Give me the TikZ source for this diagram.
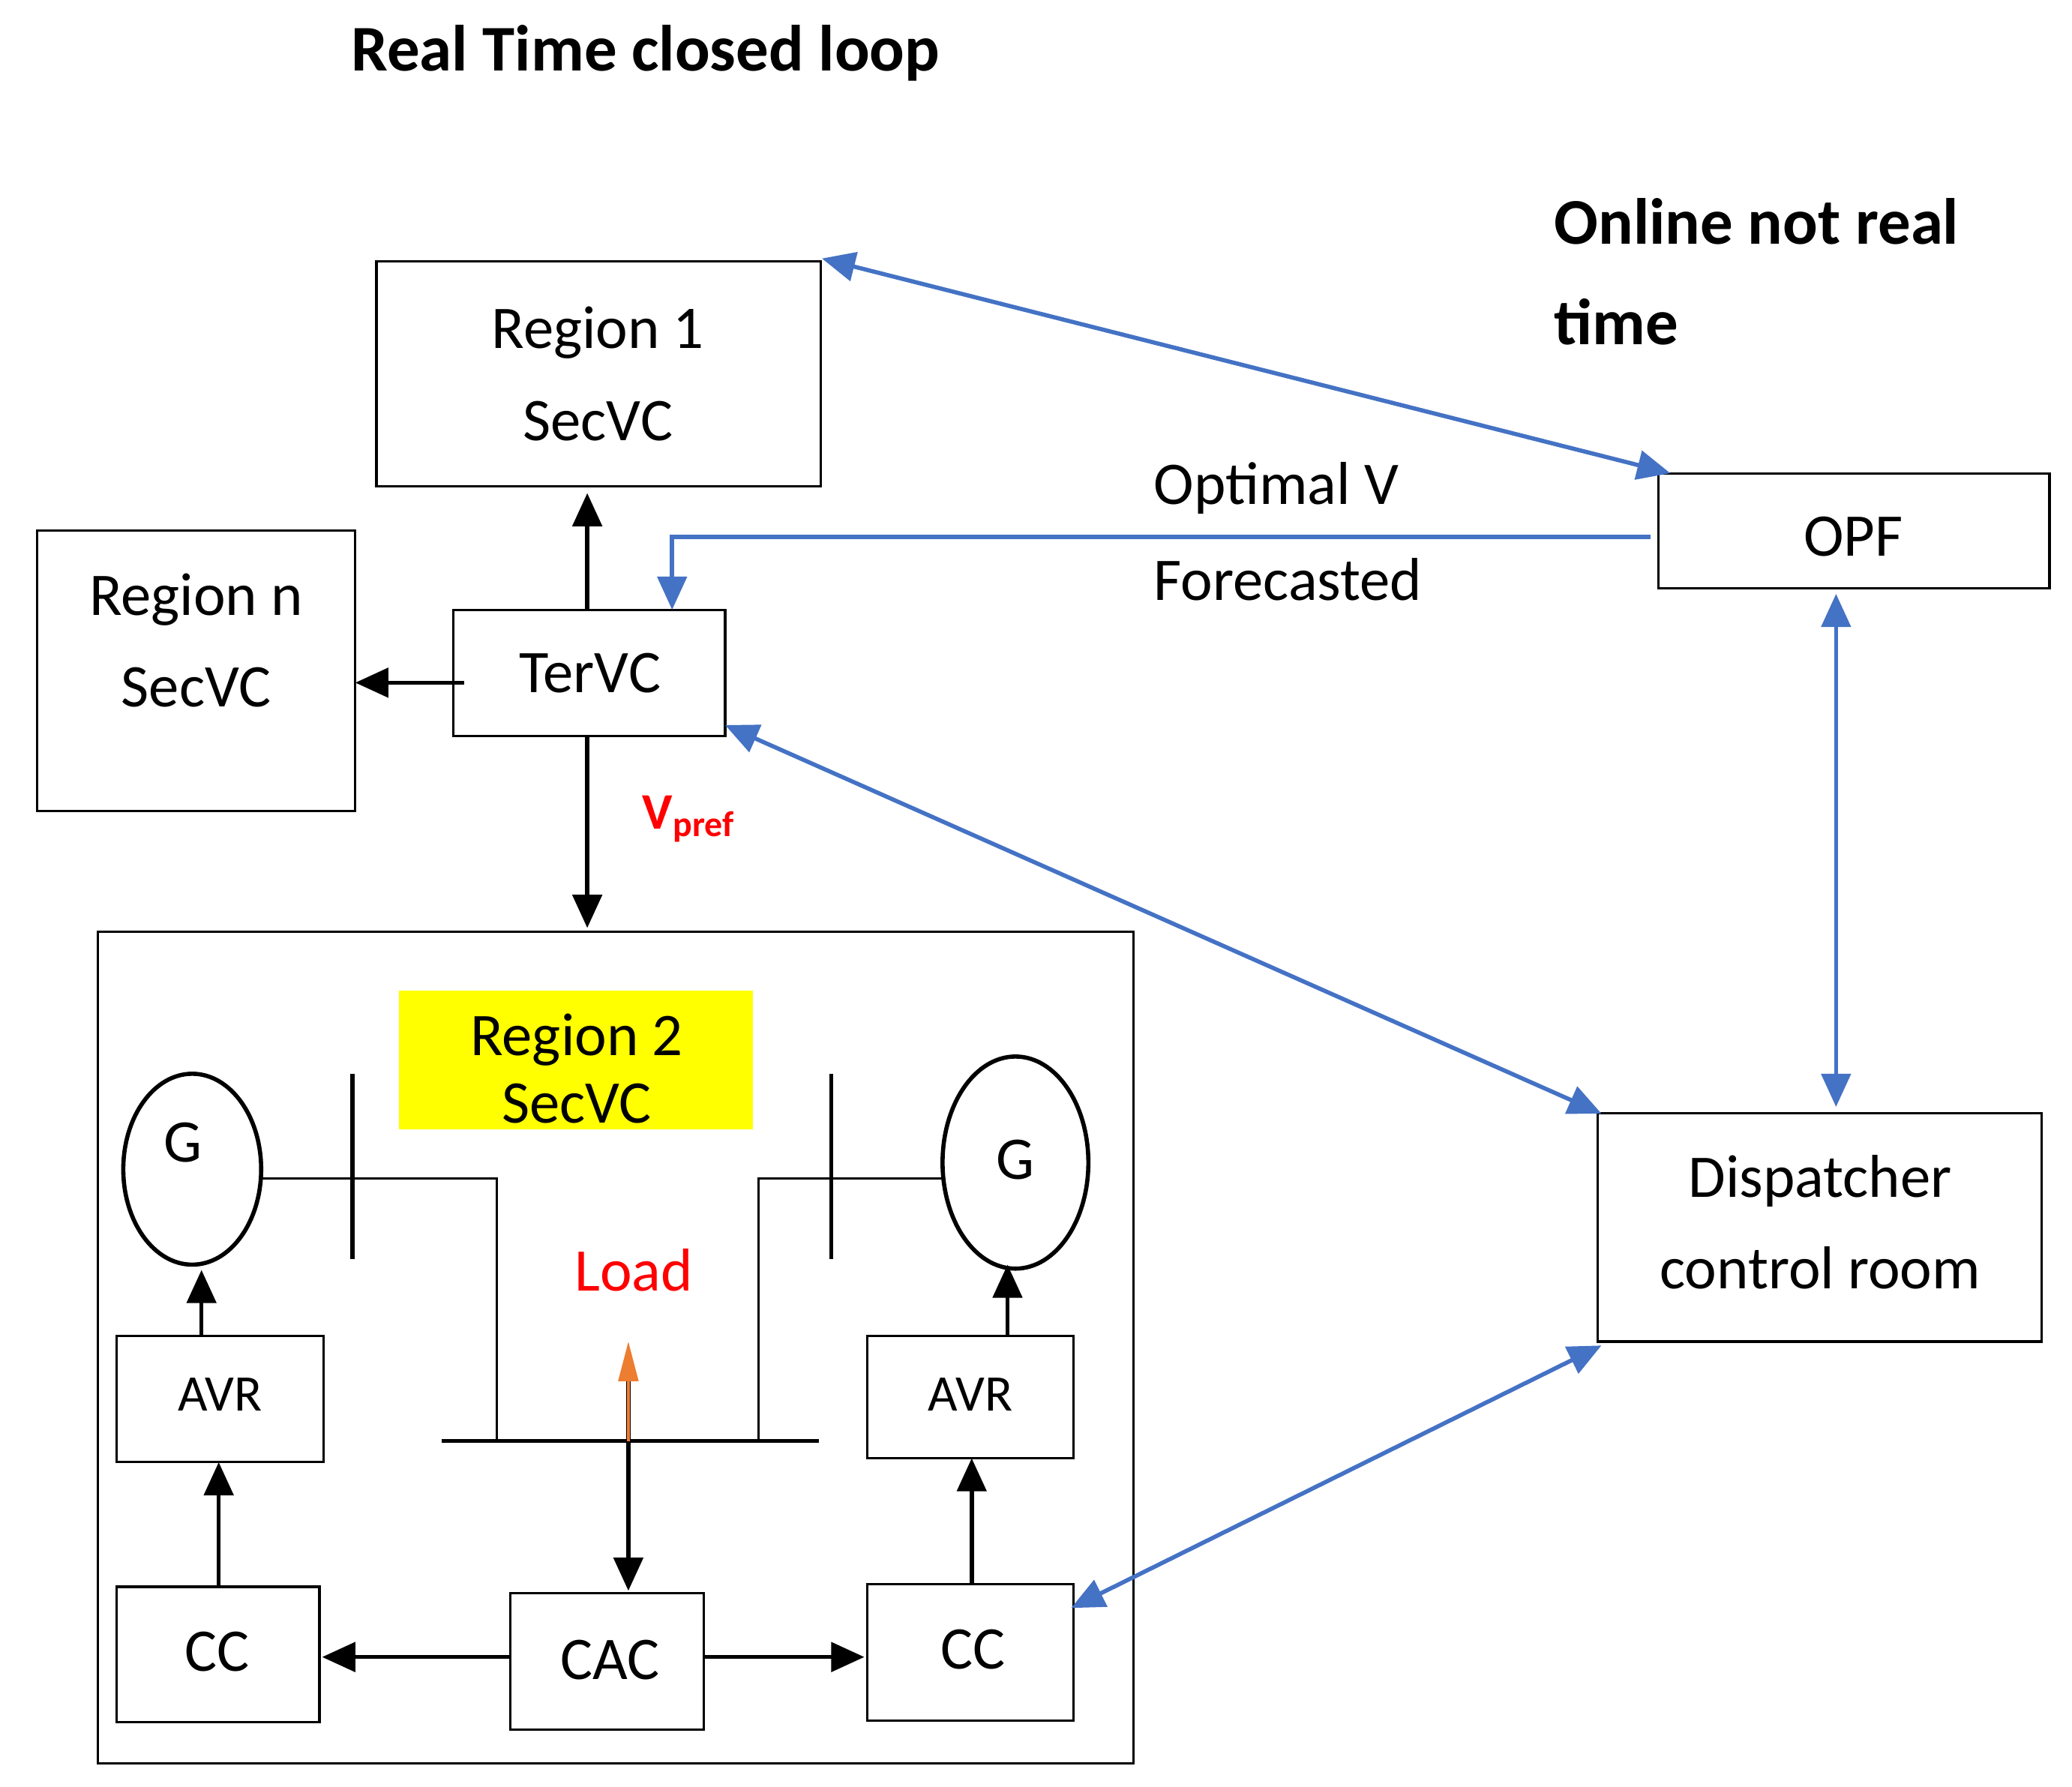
\documentclass[tikz,border=0pt]{standalone}
\usepackage{fontspec}
\setmainfont{Carlito}
\usetikzlibrary{arrows.meta}
\definecolor{bl}{RGB}{68,114,196}
\definecolor{yel}{RGB}{255,255,0}
\definecolor{org}{RGB}{237,125,49}
\begin{document}
\begin{tikzpicture}[x=0.1mm,y=-0.1mm,
  box/.style={draw,line width=0.5pt},
  txt/.style={font=\fontsize{13}{16}\selectfont},
  ar/.style={-{Triangle[length=2.5mm,width=2.2mm]},line width=0.9pt},
  bar/.style={{Triangle[length=2.5mm,width=2.2mm]}-{Triangle[length=2.5mm,width=2.2mm]},line width=0.9pt,bl},
  lin/.style={line width=0.5pt}]
\useasboundingbox (0,0) rectangle (1563,1348);
\node[font=\bfseries\fontsize{14}{16}\selectfont] (title) at (487,40) {Real Time closed loop};
\node[font=\bfseries\fontsize{14}{16}\selectfont,anchor=west,align=left] (online) at (1160,205) {Online not real\\[2mm]time};
% boxes
\draw[box] (284,197) rectangle (619,367);
\node[txt,align=center] (r1) at (451,282) {Region 1\\[1.3mm]SecVC};
\draw[box] (28,400) rectangle (268,612);
\node[txt,align=center] (rn) at (148,483) {Region n\\[1.3mm]SecVC};
\draw[box] (342,460) rectangle (547,555);
\node[txt] (ter) at (445,508) {TerVC};
\draw[box] (1251,357) rectangle (1546,444);
\node[txt] (opf) at (1398,405) {OPF};
\draw[box] (1205,840) rectangle (1540,1012);
\node[txt,align=center] (disp) at (1373,922) {Dispatcher\\[1.3mm]control room};
\draw[box] (74,703) rectangle (855,1330);
\fill[yel] (301,747) rectangle (568,852);
\node[txt,align=center] (r2) at (435,806) {Region 2\\[-0.5mm]SecVC};
% generators
\draw[line width=0.9pt] (145,882) ellipse (52 and 72);
\node[txt] (g1) at (138,862) {G};
\draw[line width=0.9pt] (766,877) ellipse (55 and 80);
\node[txt] (g2) at (766,875) {G};
\draw[line width=0.9pt] (266,810) -- (266,950);
\draw[line width=0.9pt] (627,810) -- (627,950);
\draw[lin] (197,889) -- (375,889) -- (375,1087);
\draw[lin] (711,889) -- (572,889) -- (572,1087);
\draw[line width=0.9pt] (333,1087) -- (618,1087);
\node[txt,red] (load) at (478,958) {Load};
\draw[box] (88,1008) rectangle (244,1103);
\node[font=\fontsize{11}{12}\selectfont] (avr1) at (166,1052) {AVR};
\draw[box] (654,1008) rectangle (810,1100);
\node[font=\fontsize{11}{12}\selectfont] (avr2) at (732,1052) {AVR};
\draw[box] (88,1197) rectangle (241,1299);
\node[txt] (cc1) at (164,1246) {CC};
\draw[box] (385,1202) rectangle (531,1305);
\node[txt] (cac) at (460,1252) {CAC};
\draw[box] (654,1195) rectangle (810,1298);
\node[txt] (cc2) at (734,1244) {CC};
\draw[ar] (474,1040) -- (474,1200);
\draw[-{Triangle[length=3mm,width=1.5mm]},org,line width=0.6pt] (474,1087) -- (474,1012);
\draw[ar] (165,1197) -- (165,1103);
\draw[ar] (152,1008) -- (152,958);
\draw[ar] (733,1195) -- (733,1100);
\draw[ar] (760,1008) -- (760,954);
\draw[ar] (385,1250) -- (243,1250);
\draw[ar] (531,1250) -- (652,1250);
\draw[ar] (443,460) -- (443,372);
\draw[ar] (350,515) -- (268,515);
\draw[ar] (443,555) -- (443,700);
\node[red,font=\bfseries\fontsize{11}{12}\selectfont] (vp) at (520,618) {V\textsubscript{pref}};
% blue
\draw[bar] (620,195) -- (1260,357);
\draw[-{Triangle[length=2.5mm,width=2.2mm]},line width=0.9pt,bl] (1245,405) -- (507,405) -- (507,460);
\node[txt,anchor=west] (optv) at (858,368) {Optimal V};
\node[txt,anchor=west] (fc) at (858,437) {Forecasted};
\draw[bar] (547,547) -- (1208,840);
\draw[bar] (1385,448) -- (1385,835);
\draw[bar] (1208,1015) -- (808,1213);
\end{tikzpicture}
\end{document}
